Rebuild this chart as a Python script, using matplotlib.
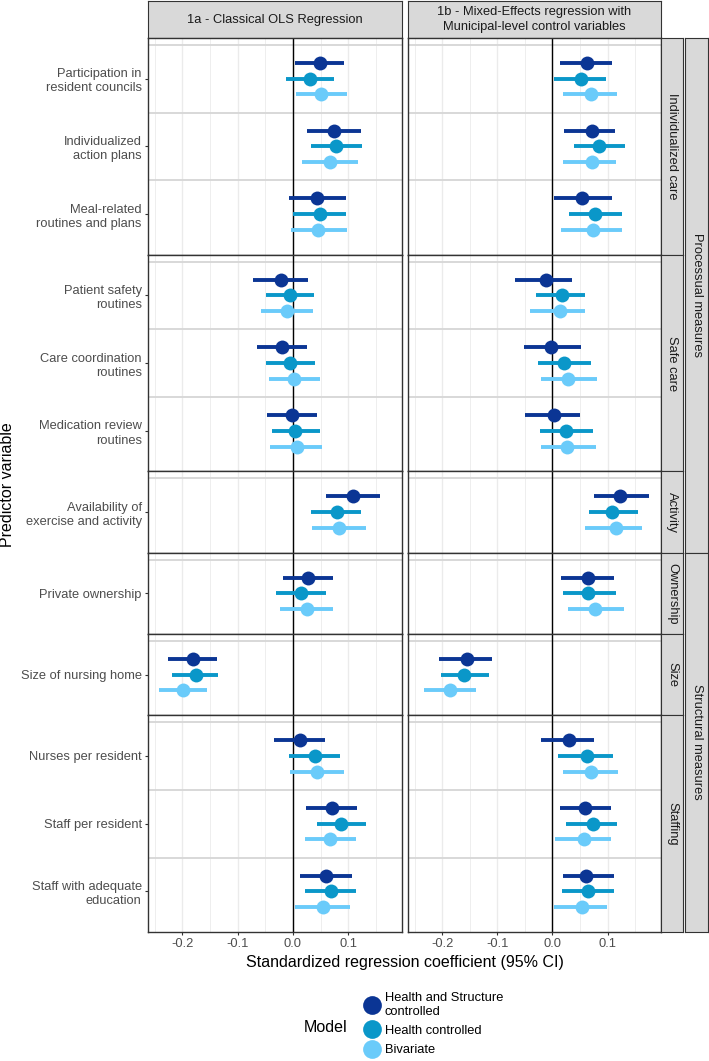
import matplotlib
matplotlib.use("Agg")
from matplotlib import pyplot as plt
from matplotlib.lines import Line2D

plt.rcParams['font.family'] = ['Liberation Sans', 'DejaVu Sans']

# Predictors, top to bottom, with their facet groups
predictors = [
    "Participation in\nresident councils",
    "Individualized\naction plans",
    "Meal-related\nroutines and plans",
    "Patient safety\nroutines",
    "Care coordination\nroutines",
    "Medication review\nroutines",
    "Availability of\nexercise and activity",
    "Private ownership",
    "Size of nursing home",
    "Nurses per resident",
    "Staff per resident",
    "Staff with adequate\neducation",
]
subgroups = ["Individualized care"] * 3 + ["Safe care"] * 3 + ["Activity", "Ownership", "Size"] + ["Staffing"] * 3
subgroup_order = ["Individualized care", "Safe care", "Activity", "Ownership", "Size", "Staffing"]
measure_types = ["Processual measures", "Processual measures", "Processual measures",
                 "Structural measures", "Structural measures", "Structural measures"]

models = ["Health and Structure\ncontrolled", "Health controlled", "Bivariate"]
model_colors = ["#0b3594", "#0a97c9", "#6acbfa"]

panel_titles = ["1a - Classical OLS Regression",
                "1b - Mixed-Effects regression with\nMunicipal-level control variables"]

# 1a - OLS
ols_hsc_est = [0.048, 0.075, 0.044, -0.021, -0.019, -0.002, 0.108, 0.028, -0.181, 0.012, 0.070, 0.060]
ols_hsc_lo = [0.004, 0.026, -0.008, -0.072, -0.065, -0.047, 0.059, -0.018, -0.226, -0.035, 0.024, 0.012]
ols_hsc_hi = [0.093, 0.123, 0.095, 0.027, 0.025, 0.043, 0.157, 0.073, -0.137, 0.057, 0.116, 0.106]

ols_hc_est = [0.031, 0.078, 0.048, -0.005, -0.005, 0.004, 0.079, 0.015, -0.176, 0.039, 0.087, 0.068]
ols_hc_lo = [-0.013, 0.032, 0.000, -0.049, -0.048, -0.038, 0.032, -0.030, -0.218, -0.007, 0.044, 0.022]
ols_hc_hi = [0.074, 0.124, 0.095, 0.038, 0.039, 0.048, 0.123, 0.060, -0.136, 0.085, 0.132, 0.113]

ols_biv_est = [0.051, 0.067, 0.046, -0.011, 0.002, 0.007, 0.084, 0.025, -0.199, 0.043, 0.067, 0.055]
ols_biv_lo = [0.005, 0.016, -0.004, -0.058, -0.044, -0.041, 0.035, -0.024, -0.242, -0.006, 0.021, 0.004]
ols_biv_hi = [0.098, 0.118, 0.098, 0.036, 0.048, 0.052, 0.132, 0.073, -0.155, 0.092, 0.113, 0.103]

# 1b - Mixed effects
mix_hsc_est = [0.062, 0.072, 0.054, -0.012, -0.002, 0.002, 0.123, 0.064, -0.155, 0.030, 0.060, 0.061]
mix_hsc_lo = [0.014, 0.021, 0.002, -0.068, -0.052, -0.050, 0.075, 0.015, -0.205, -0.021, 0.013, 0.019]
mix_hsc_hi = [0.108, 0.113, 0.108, 0.035, 0.051, 0.050, 0.176, 0.112, -0.109, 0.075, 0.107, 0.112]

mix_hc_est = [0.051, 0.085, 0.078, 0.017, 0.021, 0.025, 0.109, 0.064, -0.160, 0.062, 0.073, 0.064]
mix_hc_lo = [0.002, 0.039, 0.030, -0.030, -0.026, -0.022, 0.067, 0.019, -0.202, 0.010, 0.025, 0.017]
mix_hc_hi = [0.097, 0.132, 0.127, 0.060, 0.070, 0.073, 0.156, 0.115, -0.115, 0.110, 0.117, 0.112]

mix_biv_est = [0.070, 0.072, 0.073, 0.013, 0.028, 0.027, 0.115, 0.078, -0.185, 0.070, 0.057, 0.053]
mix_biv_lo = [0.019, 0.019, 0.015, -0.041, -0.020, -0.020, 0.059, 0.028, -0.233, 0.019, 0.005, 0.002]
mix_biv_hi = [0.118, 0.115, 0.127, 0.059, 0.081, 0.079, 0.163, 0.130, -0.139, 0.119, 0.106, 0.099]

x_major = [-0.2, -0.1, 0.0, 0.1]
x_minor = [-0.25, -0.15, -0.05, 0.05, 0.15]

W, H = 709, 1061
fig = plt.figure(figsize=(W / 100, H / 100), dpi=100)


def px_axes(x0, y0, x1, y1):
    # axes from pixel box (top-left origin)
    return fig.add_axes([x0 / W, 1 - y1 / H, (x1 - x0) / W, (y1 - y0) / H])


border = "#333333"
strip_bg = "#d9d9d9"
tick_col = "#4d4d4d"
fs_tick = 9.3
fs_title = 11.5

columns = [(148, 402), (408, 661)]
panel_top, panel_bottom = 38, 932
col_data = [
    [(ols_hsc_est, ols_hsc_lo, ols_hsc_hi), (ols_hc_est, ols_hc_lo, ols_hc_hi), (ols_biv_est, ols_biv_lo, ols_biv_hi)],
    [(mix_hsc_est, mix_hsc_lo, mix_hsc_hi), (mix_hc_est, mix_hc_lo, mix_hc_hi), (mix_biv_est, mix_biv_lo, mix_biv_hi)],
]

# row heights follow ggplot's free space: n items + 0.6 expansion each side
counts = [subgroups.count(g) for g in subgroup_order]
units = [n + 0.2 for n in counts]
unit_px = (panel_bottom - panel_top) / sum(units)
row_bounds = []
y = panel_top
for u in units:
    row_bounds.append((y, y + u * unit_px))
    y += u * unit_px

dodge = [-0.233, 0.0, 0.233]

for ci, (cx0, cx1) in enumerate(columns):
    # column strip
    sax = px_axes(cx0, 1, cx1, panel_top)
    sax.set_facecolor(strip_bg)
    sax.set(xticks=[], yticks=[])
    for s in sax.spines.values():
        s.set_color(border)
    sax.text(0.5, 0.5, panel_titles[ci], ha="center", va="center", fontsize=fs_tick,
             color="#1a1a1a", transform=sax.transAxes, linespacing=1.3)

    for ri, g in enumerate(subgroup_order):
        y0, y1 = row_bounds[ri]
        ax = px_axes(cx0, y0, cx1, y1)
        idx = [i for i, s in enumerate(subgroups) if s == g]
        n = len(idx)
        ax.set_xlim(-0.262, 0.197)
        ax.set_ylim(n + 0.6, 0.4)
        ax.set_xticks(x_major)
        ax.set_xticks(x_minor, minor=True)
        ax.grid(which="major", axis="x", color="#ebebeb", lw=1.0)
        ax.grid(which="minor", axis="x", color="#ebebeb", lw=0.6)
        ax.set_axisbelow(True)
        for k in range(n):
            ax.axhline(k + 0.5, color="#d6d6d6", lw=1.3, zorder=1)
        ax.axvline(0, color="black", lw=1.0, zorder=2)

        for m, (est, lo, hi) in enumerate(col_data[ci]):
            for k, i in enumerate(idx):
                yy = k + 1 + dodge[m]
                ax.plot([lo[i], hi[i]], [yy, yy], color=model_colors[m], lw=2.8,
                        solid_capstyle="butt", zorder=3)
                ax.plot(est[i], yy, "o", color=model_colors[m], ms=10, mec="none", zorder=4)

        for s in ax.spines.values():
            s.set_color(border)
            s.set_linewidth(1.0)

        ax.set_yticks(range(1, n + 1))
        if ci == 0:
            ax.set_yticklabels([predictors[i] for i in idx], fontsize=fs_tick, color=tick_col,
                               linespacing=1.25)
            ax.tick_params(axis="y", length=2.5, color=border, width=0.8, pad=2)
        else:
            ax.tick_params(axis="y", length=0, labelleft=False)
        ax.tick_params(axis="x", which="minor", length=0)
        if ri == len(subgroup_order) - 1:
            ax.set_xticklabels([f"{v:.1f}" for v in x_major], fontsize=fs_tick, color=tick_col)
            ax.tick_params(axis="x", length=2.5, color=border, width=0.8, pad=2)
        else:
            ax.tick_params(axis="x", length=0, labelbottom=False)

        # inner row strip on the right column only
        if ci == 1:
            rax = px_axes(661, y0, 683, y1)
            rax.set_facecolor(strip_bg)
            rax.set(xticks=[], yticks=[])
            for s in rax.spines.values():
                s.set_color(border)
            rax.text(0.5, 0.5, g, rotation=-90, ha="center", va="center", fontsize=fs_tick,
                     color="#1a1a1a", transform=rax.transAxes)

# outer strips
for mt in ["Processual measures", "Structural measures"]:
    rows = [i for i, t in enumerate(measure_types) if t == mt]
    y0 = row_bounds[rows[0]][0]
    y1 = row_bounds[rows[-1]][1]
    oax = px_axes(685, y0, 708, y1)
    oax.set_facecolor(strip_bg)
    oax.set(xticks=[], yticks=[])
    for s in oax.spines.values():
        s.set_color(border)
    oax.text(0.5, 0.5, mt, rotation=-90, ha="center", va="center", fontsize=fs_tick,
             color="#1a1a1a", transform=oax.transAxes)

# axis titles
fig.text(8 / W, 1 - 485 / H, "Predictor variable", rotation=90, ha="center", va="center",
         fontsize=fs_title)
fig.text(404.5 / W, 1 - 963 / H, "Standardized regression coefficient (95% CI)",
         ha="center", va="center", fontsize=fs_title)

# legend
handles = [Line2D([], [], marker="o", ls="", ms=13.5, color=c, mec="none") for c in model_colors]
fig.legend(handles, models, loc="center left", bbox_to_anchor=(355 / W, 1 - 1024 / H),
           frameon=False, fontsize=fs_tick, labelspacing=0.55, handletextpad=0.2,
           borderpad=0, handlelength=1.6)
fig.text(326 / W, 1 - 1027 / H, "Model", ha="center", va="center", fontsize=fs_title)

fig.savefig("out.png", dpi=100)
